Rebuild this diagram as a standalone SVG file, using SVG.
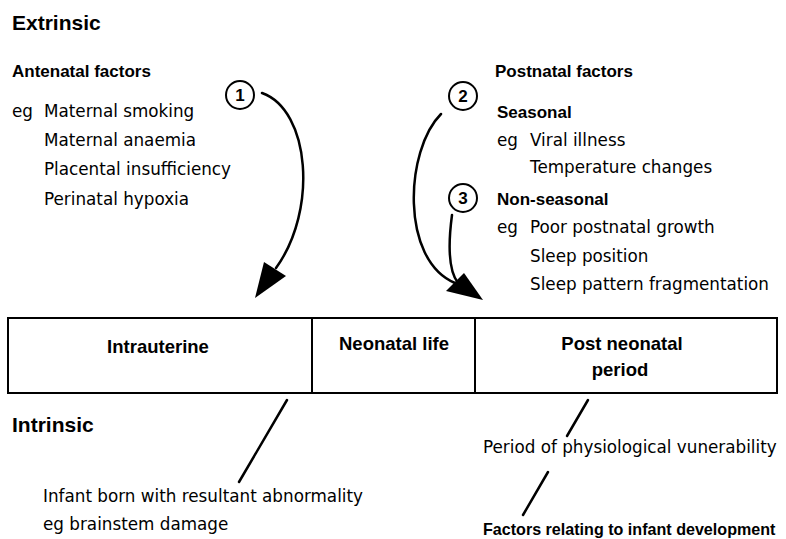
<svg xmlns="http://www.w3.org/2000/svg" width="786" height="539" viewBox="0 0 786 539">
<style>
.t{font-family:"DejaVu Sans",sans-serif;font-size:16.8px;fill:#000}
.b{font-family:"Liberation Sans",Arial,sans-serif;font-weight:bold;font-size:17px;fill:#000}
.bx{font-family:"Liberation Sans",Arial,sans-serif;font-weight:bold;font-size:18.5px;fill:#000;text-anchor:middle}
.h{font-family:"Liberation Sans",Arial,sans-serif;font-weight:bold;font-size:21px;fill:#000}
.n{font-family:"Liberation Sans",Arial,sans-serif;font-weight:bold;font-size:17px;fill:#000;text-anchor:middle}
.c{fill:none;stroke:#000;stroke-width:2}
.ln{fill:none;stroke:#000;stroke-width:2.5;stroke-linecap:round}
.box{fill:#fff;stroke:#000;stroke-width:2}
</style>
<rect width="786" height="539" fill="#fff"/>
<g id="extrinsic">
<text class="h" x="12" y="30">Extrinsic</text>
</g>
<g id="antenatal">
<text class="b" x="12" y="77">Antenatal factors</text>
<text class="t" x="12" y="117">eg</text>
<text class="t" x="44" y="117">Maternal smoking</text>
<text class="t" x="44" y="146">Maternal anaemia</text>
<text class="t" x="44" y="175">Placental insufficiency</text>
<text class="t" x="44" y="205">Perinatal hypoxia</text>
</g>
<g id="postnatal">
<text class="b" x="495" y="77">Postnatal factors</text>
<text class="b" x="497" y="118">Seasonal</text>
<text class="t" x="497" y="146">eg</text>
<text class="t" x="530" y="146">Viral illness</text>
<text class="t" x="530" y="173">Temperature changes</text>
<text class="b" x="497" y="205">Non-seasonal</text>
<text class="t" x="497" y="233">eg</text>
<text class="t" x="530" y="233">Poor postnatal growth</text>
<text class="t" x="530" y="262">Sleep position</text>
<text class="t" x="530" y="290">Sleep pattern fragmentation</text>
</g>
<g id="circle1">
<circle class="c" cx="240" cy="95" r="14"/>
<text class="n" x="240" y="101">1</text>
</g>
<g id="circle2">
<circle class="c" cx="463" cy="96" r="14"/>
<text class="n" x="463" y="102">2</text>
</g>
<g id="circle3">
<circle class="c" cx="463" cy="198" r="14"/>
<text class="n" x="463" y="204">3</text>
</g>
<g id="timeline">
<rect class="box" x="8" y="318" width="769" height="75"/>
<line class="c" x1="312" y1="318" x2="312" y2="393"/>
<line class="c" x1="475" y1="318" x2="475" y2="393"/>
<text class="bx" x="158" y="353">Intrauterine</text>
<text class="bx" x="394" y="350">Neonatal life</text>
<text class="bx" x="622" y="350">Post neonatal</text>
<text class="bx" x="620" y="376">period</text>
</g>
<g id="intrinsic">
<text class="h" x="12" y="432">Intrinsic</text>
<text class="t" x="43" y="502">Infant born with resultant abnormality</text>
<text class="t" x="43" y="530">eg brainstem damage</text>
<text class="t" x="483" y="453">Period of physiological vunerability</text>
<text class="b" x="483" y="535" style="font-size:16.1px">Factors relating to infant development</text>
</g>
<g id="connectors">
<path class="ln" d="M262,93 C310,110 318,210 276,268"/>
<polygon points="255,298 264,262 286,276" fill="#000"/>
<path class="ln" d="M441,114 C405,150 400,260 455,283"/>
<path class="ln" d="M452,215 C448,245 448,270 458,283"/>
<polygon points="483,300 446,291 464,273" fill="#000"/>
<line class="ln" x1="287" y1="400" x2="239" y2="482"/>
<line class="ln" x1="588" y1="400" x2="567" y2="436"/>
<line class="ln" x1="548" y1="472" x2="523" y2="515"/>
</g>
</svg>
